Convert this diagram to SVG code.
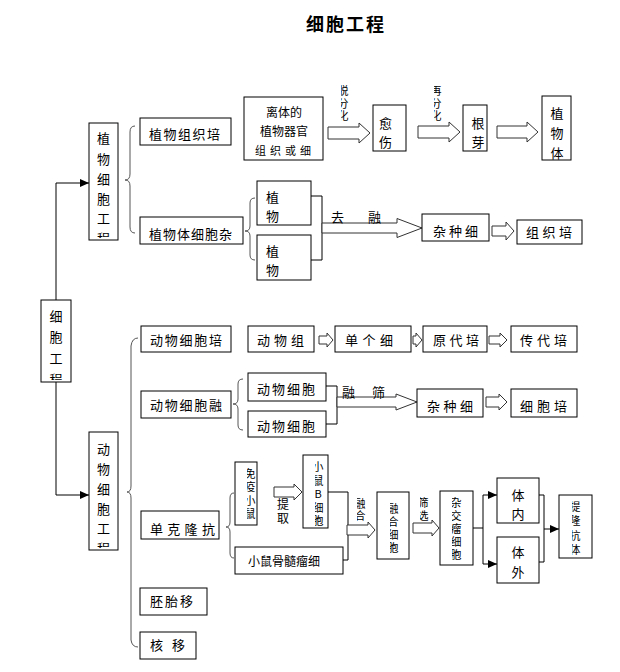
<svg xmlns="http://www.w3.org/2000/svg" width="620" height="672" viewBox="0 0 620 672">
<style>
.box{fill:#fff;stroke:#000;stroke-width:1}
.t{font-family:"Noto Sans CJK SC","Noto Sans",sans-serif;font-size:13px;fill:#000}
.s12{font-size:12px}
.s11{font-size:11px}
.m{text-anchor:middle}
.v{writing-mode:vertical-rl;text-orientation:upright}
.brace{fill:none;stroke:#555;stroke-width:1}
.ln{fill:none;stroke:#000;stroke-width:1}
.ha{fill:#fff;stroke:#333;stroke-width:1}
.title{font-family:"Noto Sans CJK SC",sans-serif;font-size:18px;font-weight:bold;fill:#000;text-anchor:middle}
</style>
<defs>
<marker id="ah" markerUnits="userSpaceOnUse" markerWidth="10" markerHeight="10" refX="9" refY="4" orient="auto">
<path d="M0,0 L9,4 L0,8 z" fill="#000"/>
</marker>
<clipPath id="c_pe"><rect x="89" y="123" width="29" height="115"/></clipPath>
<clipPath id="c_ce"><rect x="41" y="300" width="30" height="80"/></clipPath>
<clipPath id="c_ae"><rect x="89" y="432" width="29" height="116"/></clipPath>
<clipPath id="c_tuo"><rect x="341" y="84" width="10" height="40"/></clipPath>
<clipPath id="c_zai"><rect x="434" y="84" width="10" height="40"/></clipPath>
<clipPath id="c_my"><rect x="247" y="463" width="9" height="61"/></clipPath>
<clipPath id="c_b"><rect x="315" y="456" width="12" height="71"/></clipPath>
<clipPath id="c_rh"><rect x="357" y="495" width="9" height="30"/></clipPath>
<clipPath id="c_rhxb"><rect x="390" y="493" width="18" height="65"/></clipPath>
<clipPath id="c_sx"><rect x="420" y="494" width="10" height="30"/></clipPath>
<clipPath id="c_zjl"><rect x="452" y="492" width="20" height="72"/></clipPath>
<clipPath id="c_kt"><rect x="572" y="496" width="19" height="61"/></clipPath>
</defs>
<rect width="620" height="672" fill="#fff"/>
<text class="title" x="346" y="31" letter-spacing="2">细胞工程</text>

<g id="connectors">
<line class="ln" x1="56" y1="183" x2="56" y2="300"/>
<line class="ln" x1="56" y1="183" x2="89" y2="183" marker-end="url(#ah)"/>
<line class="ln" x1="56" y1="382" x2="56" y2="495"/>
<line class="ln" x1="56" y1="495" x2="89" y2="495" marker-end="url(#ah)"/>
<path class="brace" d="M135,126 Q130,126 130,132 L130,174 Q130,180 125,180 Q130,180 130,186 L130,227 Q130,233 135,233"/>
<path class="brace" d="M255,198 Q250,198 250,203 L250,226 Q250,231 245,231 Q250,231 250,236 L250,255 Q250,260 255,260"/>
<path class="brace" d="M138,338 Q132,338 131,346 L131,486 Q131,492 127,492 Q131,492 131,498 L131,640 Q132,647 138,647"/>
<path class="brace" d="M243,379 Q238,379 238,384 L238,399 Q238,404 233,404 Q238,404 238,409 L238,425 Q238,430 243,430"/>
<path class="brace" d="M234,493 Q230,493 230,498 L230,522 Q230,527 226,527 Q230,527 230,532 L230,553 Q230,558 234,558"/>
<path class="ha" d="M328,127 L359,127 L359,123 L370,133 L359,143 L359,139 L328,139 Z"/>
<path class="ha" d="M418,126 L449,126 L449,122 L460,132 L449,142 L449,138 L418,138 Z"/>
<path class="ha" d="M497,126 L527,126 L527,122 L538,132 L527,142 L527,138 L497,138 Z"/>
<polyline class="ln" points="311,196 322,196 322,260 311,260"/>
<path class="ha" d="M322,223 L397,223 L397,218.5 L422,228 L397,237.5 L397,233 L322,233 Z"/>
<path class="ha" d="M492,226 L506,226 L506,222 L514,231 L506,240 L506,236 L492,236 Z"/>
<path class="ha" d="M319,336 L327,336 L327,333 L333,340 L327,347 L327,344 L319,344 Z"/>
<path class="ha" d="M413,336 L416,336 L416,333 L422,340 L416,347 L416,344 L413,344 Z"/>
<path class="ha" d="M489,336 L500,336 L500,333 L507,340 L500,347 L500,344 L489,344 Z"/>
<polyline class="ln" points="326,386 337,386 337,424 326,424"/>
<path class="ha" d="M337,397 L396,397 L396,394 L417,402 L396,410 L396,407 L337,407 Z"/>
<path class="ha" d="M486,397 L499,397 L499,394 L507,402 L499,410 L499,407 L486,407 Z"/>
<path class="ha" d="M274,487 L294,487 L294,484 L302,492 L294,500 L294,497 L274,497 Z"/>
<polyline class="ln" points="328,492 348,492 348,560 343,560"/>
<path class="ha" d="M347,525 L368,525 L368,522 L375,530 L368,538 L368,535 L347,535 Z"/>
<path class="ha" d="M413,523 L432,523 L432,520 L439,528 L432,536 L432,533 L413,533 Z"/>
<line class="ln" x1="473" y1="528" x2="483" y2="528"/>
<line class="ln" x1="483" y1="495" x2="483" y2="564"/>
<line class="ln" x1="483" y1="495" x2="497" y2="495" marker-end="url(#ah)"/>
<line class="ln" x1="483" y1="564" x2="497" y2="564" marker-end="url(#ah)"/>
<polyline class="ln" points="539,495 544,495 544,562 539,562"/>
<line class="ln" x1="544" y1="529" x2="559" y2="529" marker-end="url(#ah)"/>
<g class="t">
<text x="331" y="222">去</text>
<text x="368" y="222">融</text>
<text x="342" y="397">融</text>
<text x="372" y="397">筛</text>
<text class="s12 v" x="283" y="498" letter-spacing="2">提取</text>
<g clip-path="url(#c_tuo)"><text class="s11 v" x="343" y="85.5" letter-spacing="1.5">脱分化</text></g>
<g clip-path="url(#c_zai)"><text class="s11 v" x="436" y="85.5" letter-spacing="1.5">再分化</text></g>
<g clip-path="url(#c_rh)"><text class="s11 v" x="360" y="498.5" letter-spacing="1">融合</text></g>
<g clip-path="url(#c_sx)"><text class="s11 v" x="423" y="497.5" letter-spacing="2">筛选</text></g>
</g>
</g>

<g id="n_cell_eng">
<rect class="box" x="41" y="300" width="30" height="82"/>
<g class="t m" clip-path="url(#c_ce)">
<text x="56" y="321">细</text>
<text x="56" y="342">胞</text>
<text x="56" y="363">工</text>
<text x="56" y="384">程</text>
</g>
</g>

<g id="n_plant_eng">
<rect class="box" x="89" y="123" width="29" height="117"/>
<g class="t m" clip-path="url(#c_pe)">
<text x="103.5" y="143">植</text>
<text x="103.5" y="164">物</text>
<text x="103.5" y="184">细</text>
<text x="103.5" y="204">胞</text>
<text x="103.5" y="223">工</text>
<text x="103.5" y="243">程</text>
</g>
</g>

<g id="n_animal_eng">
<rect class="box" x="89" y="432" width="29" height="118"/>
<g class="t m" clip-path="url(#c_ae)">
<text x="103.5" y="454">动</text>
<text x="103.5" y="474">物</text>
<text x="103.5" y="494">细</text>
<text x="103.5" y="514">胞</text>
<text x="103.5" y="533">工</text>
<text x="103.5" y="553">程</text>
</g>
</g>

<g id="n_ptc">
<rect class="box" x="140" y="118" width="91" height="27"/>
<text class="t" x="149" y="139" letter-spacing="1.5">植物组织培</text>
</g>
<g id="n_psh">
<rect class="box" x="140" y="217" width="103" height="27"/>
<text class="t" x="149" y="239" letter-spacing="1">植物体细胞杂</text>
</g>
<g id="n_explant">
<rect class="box" x="244" y="97" width="79" height="63"/>
<text class="t s12 m" x="284" y="117">离体的</text>
<text class="t s12 m" x="284" y="136">植物器官</text>
<text class="t s11" x="255" y="155" letter-spacing="4">组织或细</text>
</g>
<g id="n_callus">
<rect class="box" x="373" y="105" width="33" height="46"/>
<text class="t" x="379" y="128">愈</text>
<text class="t" x="379" y="147">伤</text>
</g>
<g id="n_rootbud">
<rect class="box" x="463" y="105" width="24" height="46"/>
<text class="t m" x="478" y="128">根</text>
<text class="t m" x="478" y="147">芽</text>
</g>
<g id="n_plantbody">
<rect class="box" x="542" y="96" width="29" height="64"/>
<text class="t m" x="557" y="118">植</text>
<text class="t m" x="557" y="138">物</text>
<text class="t m" x="557" y="158">体</text>
</g>
<g id="n_plantA">
<rect class="box" x="257" y="181" width="54" height="44"/>
<text class="t" x="266" y="202">植</text>
<text class="t" x="266" y="221">物</text>
</g>
<g id="n_plantB">
<rect class="box" x="257" y="235" width="54" height="45"/>
<text class="t" x="266" y="256">植</text>
<text class="t" x="266" y="275">物</text>
</g>
<g id="n_hybrid_p">
<rect class="box" x="422" y="214" width="67" height="27"/>
<text class="t" x="433" y="236" letter-spacing="3">杂种细</text>
</g>
<g id="n_tc_p">
<rect class="box" x="517" y="220" width="65" height="24"/>
<text class="t" x="526" y="237" letter-spacing="3.5">组织培</text>
</g>

<g id="n_act">
<rect class="box" x="141" y="326" width="90" height="26"/>
<text class="t" x="150" y="345" letter-spacing="1.75">动物细胞培</text>
</g>
<g id="n_atissue">
<rect class="box" x="248" y="326" width="66" height="26"/>
<text class="t" x="257" y="345" letter-spacing="4">动物组</text>
</g>
<g id="n_single">
<rect class="box" x="335" y="326" width="76" height="26"/>
<text class="t" x="345" y="345" letter-spacing="4.5">单个细</text>
</g>
<g id="n_primary">
<rect class="box" x="423" y="326" width="64" height="26"/>
<text class="t" x="433" y="345" letter-spacing="3.5">原代培</text>
</g>
<g id="n_passage">
<rect class="box" x="511" y="326" width="66" height="26"/>
<text class="t" x="520" y="345" letter-spacing="4">传代培</text>
</g>
<g id="n_afusion">
<rect class="box" x="141" y="391" width="90" height="27"/>
<text class="t" x="150" y="410" letter-spacing="1.75">动物细胞融</text>
</g>
<g id="n_acellA">
<rect class="box" x="248" y="373" width="78" height="28"/>
<text class="t" x="257" y="394" letter-spacing="2">动物细胞</text>
</g>
<g id="n_acellB">
<rect class="box" x="248" y="411" width="78" height="26"/>
<text class="t" x="257" y="431" letter-spacing="2">动物细胞</text>
</g>
<g id="n_hybrid_a">
<rect class="box" x="417" y="389" width="66" height="28"/>
<text class="t" x="427" y="411" letter-spacing="3.5">杂种细</text>
</g>
<g id="n_cc">
<rect class="box" x="511" y="389" width="66" height="28"/>
<text class="t" x="520" y="411" letter-spacing="4">细胞培</text>
</g>

<g id="n_mab">
<rect class="box" x="141" y="511" width="78" height="28"/>
<text class="t" x="150" y="534" letter-spacing="4.3">单克隆抗</text>
</g>
<g id="n_immune">
<rect class="box" x="235" y="462" width="22" height="63"/>
<g clip-path="url(#c_my)"><text class="t s11 v" x="250" y="468.5" letter-spacing="2.3">免疫小鼠</text></g>
</g>
<g id="n_bcell">
<rect class="box" x="303" y="455" width="25" height="73"/>
<g clip-path="url(#c_b)"><text class="t s11 v" x="318" y="461.5" letter-spacing="2.5">小鼠B细胞</text></g>
</g>
<g id="n_myeloma">
<rect class="box" x="235" y="547" width="108" height="27"/>
<text class="t s12" x="248" y="566">小鼠骨髓瘤细</text>
</g>
<g id="n_fused">
<rect class="box" x="377" y="492" width="32" height="67"/>
<g clip-path="url(#c_rhxb)"><text class="t s11 v" x="393" y="503.5" letter-spacing="2">融合细胞</text></g>
</g>
<g id="n_hybridoma">
<rect class="box" x="440" y="491" width="33" height="74"/>
<g clip-path="url(#c_zjl)"><text class="t s11 v" x="456" y="497.5" letter-spacing="2">杂交瘤细胞</text></g>
</g>
<g id="n_invivo">
<rect class="box" x="497" y="478" width="42" height="45"/>
<text class="t m" x="518" y="500">体</text>
<text class="t m" x="518" y="519">内</text>
</g>
<g id="n_invitro">
<rect class="box" x="497" y="537" width="42" height="46"/>
<text class="t m" x="518" y="557">体</text>
<text class="t m" x="518" y="577">外</text>
</g>
<g id="n_antibody">
<rect class="box" x="559" y="495" width="33" height="63"/>
<g clip-path="url(#c_kt)"><text class="t s11 v" x="575" y="501.5" letter-spacing="3.3">提隆抗体</text></g>
</g>
<g id="n_embryo">
<rect class="box" x="140" y="588" width="67" height="27"/>
<text class="t" x="150" y="606" letter-spacing="2">胚胎移</text>
</g>
<g id="n_nuclear">
<rect class="box" x="140" y="632" width="56" height="27"/>
<text class="t" x="150" y="650" letter-spacing="9">核移</text>
</g>
</svg>
